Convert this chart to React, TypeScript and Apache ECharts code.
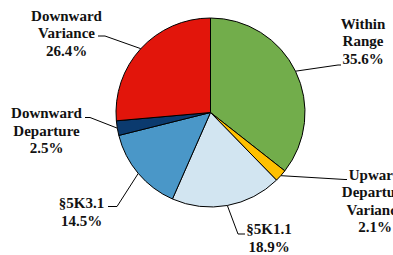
import React, { useEffect, useRef } from 'react';
import * as echarts from 'echarts';

const categories = [
  'Within\nRange',
  'Upward\nDeparture\nVariance',
  '§5K1.1',
  '§5K3.1',
  'Downward\nDeparture',
  'Downward\nVariance',
];
const values = [35.6, 2.1, 18.9, 14.5, 2.5, 26.4];
const colors = ['#72AD4B', '#FFC000', '#D2E5F1', '#4A97C8', '#0B3A6E', '#E2150B'];

// label anchor (text block centre) and leader-line elbow/end points
const labelAnchors: number[][] = [
  [363, 41],
  [375, 201],
  [269, 238],
  [81.5, 212],
  [46.5, 130.5],
  [66.5, 33],
];
const labelElbows: number[][][] = [
  [[338, 65], [341, 65]],
  [[345, 179.5], [347, 179.5]],
  [[238, 234], [245, 234]],
  [[117, 206.5], [108, 206.5]],
  [[90, 117.5], [85, 117.5]],
  [[105, 36], [98, 36]],
];

const CENTER = [210.5, 112.5];
const RADIUS = 94.5;

export default function App() {
  const ref = useRef<HTMLDivElement>(null);
  useEffect(() => {
    if (!ref.current) return;
    const chart = echarts.init(ref.current, undefined, { renderer: 'svg' });
    const total = values.reduce((a, b) => a + b, 0);
    const option: any = {
      animation: false,
      textStyle: { fontFamily: 'Times New Roman' },
      series: [
        {
          type: 'pie',
          center: CENTER,
          radius: RADIUS,
          startAngle: 90,
          clockwise: true,
          avoidLabelOverlap: false,
          data: categories.map((c, i) => ({
            name: c,
            value: values[i],
            itemStyle: { color: colors[i] },
          })),
          itemStyle: { borderColor: '#000', borderWidth: 1 },
          label: {
            show: true,
            position: 'outside',
            formatter: (p: any) => `${p.name}\n${p.value.toFixed(1)}%`,
            fontFamily: 'Times New Roman',
            fontWeight: 'bold',
            fontSize: 15,
            lineHeight: 17.5,
            color: '#111',
            align: 'center',
          },
          labelLine: {
            show: true,
            length: 10,
            length2: 10,
            lineStyle: { color: '#000', width: 1 },
          },
          labelLayout: (params: any) => {
            const i = params.dataIndex;
            let cum = 0;
            for (let k = 0; k < i; k++) cum += values[k];
            const mid = ((cum + values[i] / 2) / total) * Math.PI * 2;
            const edge = [CENTER[0] + RADIUS * Math.sin(mid), CENTER[1] - RADIUS * Math.cos(mid)];
            return {
              x: labelAnchors[i][0],
              y: labelAnchors[i][1],
              align: 'center',
              verticalAlign: 'middle',
              labelLinePoints: [edge, labelElbows[i][0], labelElbows[i][1]],
            };
          },
          emphasis: { disabled: true },
        },
      ],
    };
    chart.setOption(option);
    return () => chart.dispose();
  }, []);
  return (
    <div
      ref={ref}
      style={{ position: 'fixed', left: 0, top: 0, width: 393, height: 255, background: '#fff' }}
    />
  );
}
